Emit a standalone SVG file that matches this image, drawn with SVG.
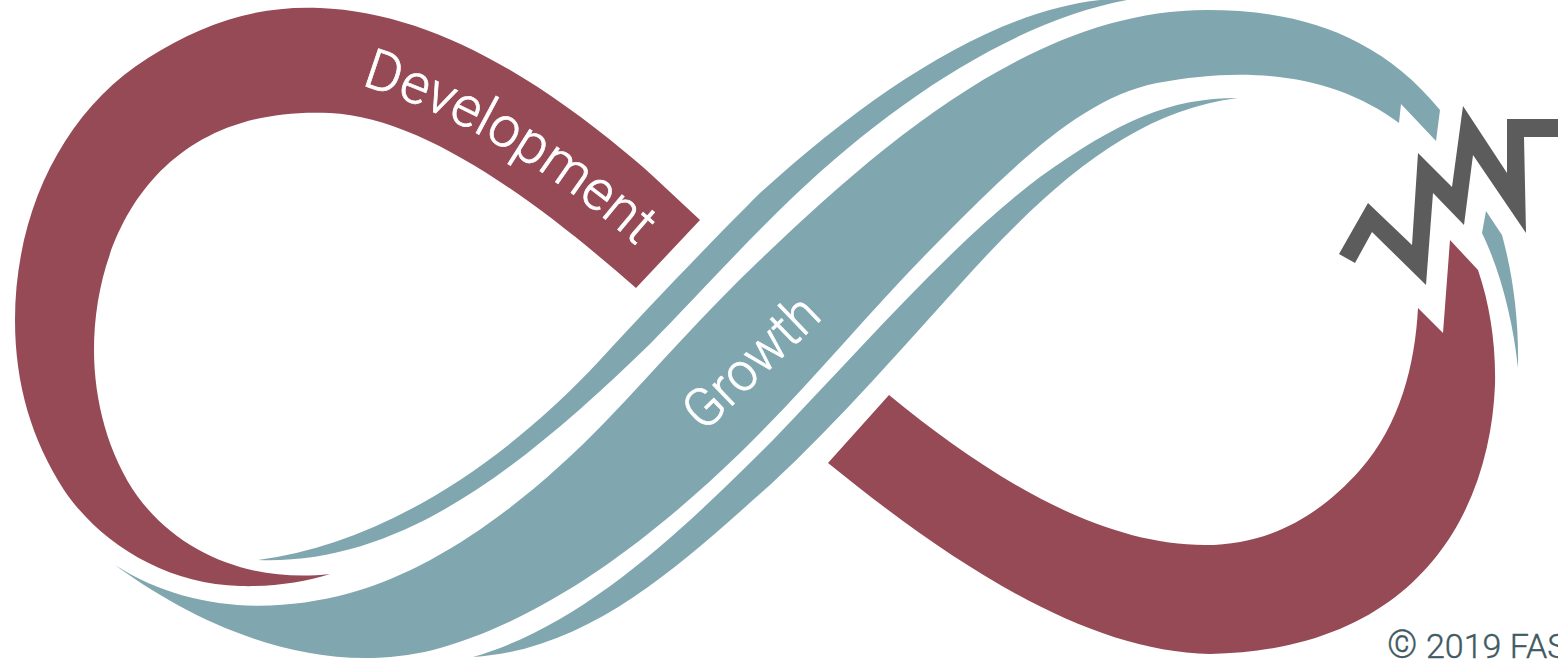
<svg xmlns="http://www.w3.org/2000/svg" width="1558" height="659" viewBox="0 0 1558 659">
<style>
.red{fill:#954a56}
.teal{fill:#80a7af}
.grey{fill:#5c5c5c}
.lbl{font-family:Roboto,"Liberation Sans",sans-serif;font-weight:300;fill:#fff;stroke:#fff;stroke-width:.7}
</style>
<defs><path id="devPath" d="M361,85 Q510,130 650,258"/></defs>
<rect width="1558" height="659" fill="#fff"/>
<g id="development-band">
<path class="red" d="M700,220 C675,197 650,172 625,152 C520,65 420,12 320,8 C255,5 200,25 148,58 C65,110 15,210 15,320 C15,385 32,440 64,490 C100,543 165,584 240,586 C272,587 305,582 330,574 C260,582 185,560 138,497 C108,455 94,400 94,350 C94,240 155,105 330,113 C420,117 530,195 636,288 Z"/>
<path class="red" d="M889,395 C990,478 1100,545 1205,545 C1270,545 1320,515 1360,470 C1400,425 1415,365 1418,308 L1443,333 L1450,240 L1478,270 C1490,305 1496,345 1495,385 C1490,510 1420,650 1210,654 C1090,652 960,570 828,463 Z"/>
</g>
<g id="growth-band">
<path class="teal" d="M1100,0 C990,12 870,93 760,193 C715,238 655,300 600,360 C490,478 370,545 258,560 C400,565 520,470 650,344 C695,298 745,243 793,197 C900,95 1020,20 1127,0 Z"/>
<path class="teal" d="M115,565 C185,610 270,615 350,593 C440,568 530,500 607,420 C655,370 705,312 760,260 C890,135 1040,10 1207,10 C1290,10 1375,30 1440,110 L1436,141 L1401,104 L1399,123 C1335,75 1250,65 1157,83 C1080,98 1010,170 940,240 C870,310 810,385 740,453 C650,540 545,620 433,650 C310,680 190,620 115,565 Z"/>
<path class="teal" d="M1238,98 C1170,98 1120,120 1040,177 C950,245 860,350 773,440 C685,528 585,625 473,657 C590,650 680,565 770,485 C840,420 905,345 973,270 C1060,175 1140,110 1238,98 Z"/>
<path class="teal" d="M1486,211 L1502,235 C1513,275 1519,320 1518,368 C1513,320 1500,270 1482,233 Z"/>
</g>
<g id="zigzag">
<polygon class="grey" points="1339,254 1355,263 1372,232 1426,285 1433,193 1464,225 1473,155 1526,233 1524,137 1558,137 1558,119 1507,119 1507,173 1463,106 1452,187 1418,153 1412,245 1368,203"/>
</g>
<g id="labels">
<text class="lbl" font-size="56"><textPath href="#devPath" textLength="322" lengthAdjust="spacingAndGlyphs">Development</textPath></text>
<text class="lbl" font-size="54" transform="translate(704,433) rotate(-44)" textLength="166" lengthAdjust="spacingAndGlyphs">Growth</text>
<text y="658" font-family="Roboto,'Liberation Sans',sans-serif" font-weight="300" font-size="34" fill="#3f5a63" stroke="#3f5a63" stroke-width=".4"><tspan x="1387" font-size="38">©</tspan> <tspan x="1426">2019 FAS</tspan></text>
</g>
</svg>
